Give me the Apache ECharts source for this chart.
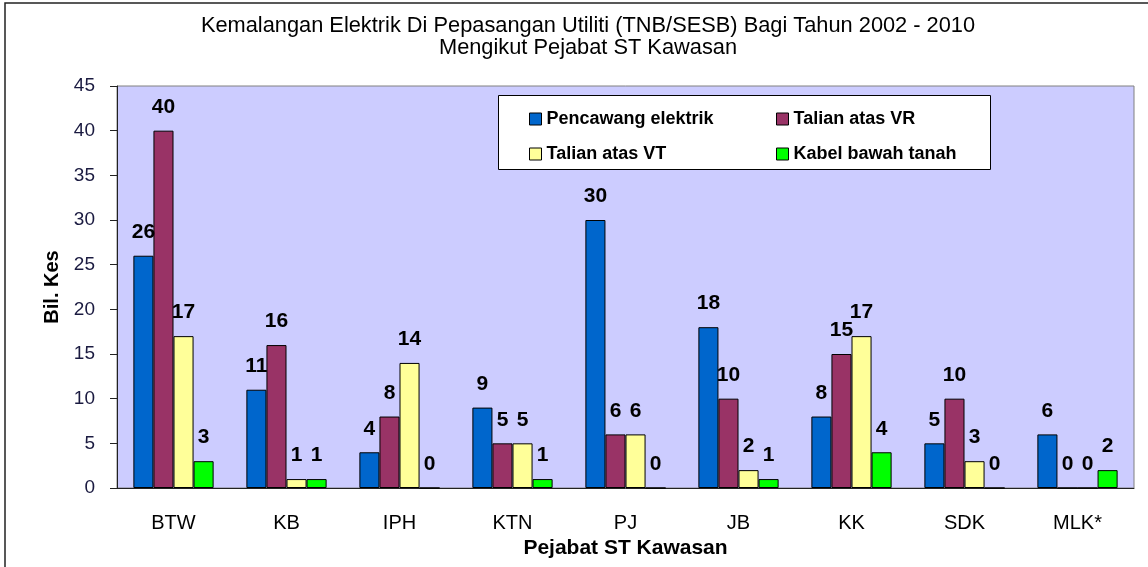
<!DOCTYPE html>
<html>
<head>
<meta charset="utf-8" />
<title>Kemalangan Elektrik</title>
<script src="https://cdn.jsdelivr.net/npm/echarts@6/dist/echarts.min.js"></script>
<style>
  html, body { margin: 0; padding: 0; background: #fff; }
  #chart { width: 1148px; height: 567px; }
</style>
</head>
<body>
<div id="chart"></div>
<script>
// kategori (pejabat ST kawasan)
const categories = ['BTW', 'KB', 'IPH', 'KTN', 'PJ', 'JB', 'KK', 'SDK', 'MLK*'];

// bilangan kes ikut jenis pepasangan
const pencawang = [26, 11, 4, 9, 30, 18, 8, 5, 6];
const talianVR = [40, 16, 8, 5, 6, 10, 15, 10, 0];
const talianVT = [17, 1, 14, 5, 6, 2, 17, 3, 0];
const kabel = [3, 1, 0, 1, 0, 1, 4, 0, 2];

const seriesNames = ['Pencawang elektrik', 'Talian atas VR', 'Talian atas VT', 'Kabel bawah tanah'];
const seriesColors = ['#0066CC', '#993366', '#FFFF99', '#00FF00'];
const seriesData = [pencawang, talianVR, talianVT, kabel];

const FONT = '"Liberation Sans", Arial, sans-serif';

const chart = echarts.init(document.getElementById('chart'));

const series = seriesData.map(function (d, i) {
  return {
    name: seriesNames[i],
    type: 'bar',
    data: d,
    barGap: '0%',
    barCategoryGap: '29%',
    itemStyle: { color: seriesColors[i], borderColor: '#000', borderWidth: 1 },
    label: {
      show: true,
      position: 'top',
      distance: 13,
      color: '#000',
      fontFamily: FONT,
      fontWeight: 'bold',
      fontSize: 21
    }
  };
});

const legendText = { fontFamily: FONT, fontWeight: 'bold', fontSize: 18, color: '#000' };

const option = {
  animation: false,
  title: {
    text: 'Kemalangan Elektrik Di Pepasangan Utiliti (TNB/SESB) Bagi Tahun 2002 - 2010\nMengikut Pejabat ST Kawasan',
    left: 583,
    top: 10,
    textAlign: 'center',
    textStyle: { fontFamily: FONT, fontSize: 21.8, fontWeight: 'normal', color: '#000', lineHeight: 22 }
  },
  graphic: [
    {
      type: 'rect',
      z: 100,
      silent: true,
      shape: { x: 5, y: 3, width: 1200, height: 620 },
      style: { fill: 'none', stroke: '#222', lineWidth: 1.5 }
    },
    {
      type: 'rect',
      z: 1,
      silent: true,
      shape: { x: 498.5, y: 95.5, width: 492, height: 74 },
      style: { fill: '#fff', stroke: '#000', lineWidth: 1 }
    }
  ],
  legend: [
    {
      data: [seriesNames[0], seriesNames[2]],
      orient: 'vertical',
      left: 529,
      top: 110,
      itemWidth: 12,
      itemHeight: 12,
      itemGap: 17,
      icon: 'rect',
      selectedMode: false,
      padding: 0,
      z: 10,
      itemStyle: { borderColor: '#000', borderWidth: 1 },
      textStyle: legendText
    },
    {
      data: [seriesNames[1], seriesNames[3]],
      orient: 'vertical',
      left: 776,
      top: 110,
      itemWidth: 12,
      itemHeight: 12,
      itemGap: 17,
      icon: 'rect',
      selectedMode: false,
      padding: 0,
      z: 10,
      itemStyle: { borderColor: '#000', borderWidth: 1 },
      textStyle: legendText
    }
  ],
  grid: {
    left: 117,
    right: 14,
    top: 86,
    bottom: 79,
    show: true,
    backgroundColor: '#CCCCFF',
    borderColor: '#808080',
    borderWidth: 1
  },
  xAxis: {
    type: 'category',
    data: categories,
    name: 'Pejabat ST Kawasan',
    nameLocation: 'middle',
    nameGap: 49,
    nameTextStyle: { fontFamily: FONT, fontWeight: 'bold', fontSize: 21, color: '#000' },
    axisLine: { lineStyle: { color: '#222', width: 1 } },
    axisTick: { length: 7, lineStyle: { color: '#222' } },
    axisLabel: { margin: 25, fontFamily: FONT, fontSize: 20, color: '#000' }
  },
  yAxis: {
    type: 'value',
    min: 0,
    max: 45,
    interval: 5,
    name: 'Bil. Kes',
    nameLocation: 'middle',
    nameGap: 48,
    nameTextStyle: { fontFamily: FONT, fontWeight: 'bold', fontSize: 20, color: '#000' },
    axisLine: { show: true, lineStyle: { color: '#222', width: 1 } },
    axisTick: { show: true, length: 7, lineStyle: { color: '#222' } },
    axisLabel: { margin: 22, fontFamily: FONT, fontSize: 19, color: '#1a1a40' },
    splitLine: { show: false }
  },
  series: series
};

chart.setOption(option);
window.onresize = function () { chart.resize(); };
</script>
</body>
</html>
